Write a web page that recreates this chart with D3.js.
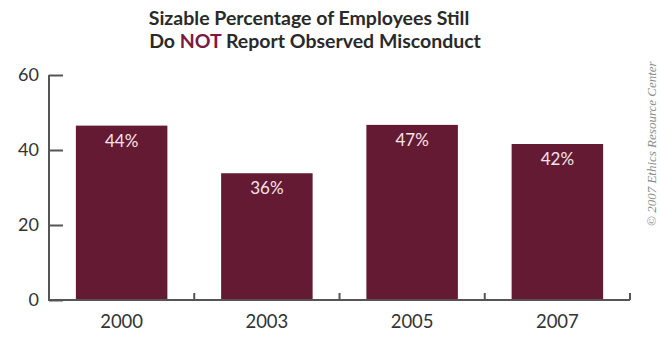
<!DOCTYPE html>
<meta charset="utf-8">
<head>
    <title>Employees who do not report misconduct</title>
</head>
<style>
  body {
    margin: 0;
    background: #fff;
    font-family: Lato, "Open Sans", sans-serif;
  }
  .axis path,
  .axis line {
    fill: none;
    stroke: #555;
    stroke-width: 2px;
  }
  .axis text {
    font: 18px Lato, sans-serif;
    fill: #333;
  }
  .bar {
    fill: #651a33;
  }
  .label {
    font: 17px Lato, sans-serif;
    fill: #f6e4ec;
  }
</style>
<body>
<script src="https://cdn.jsdelivr.net/npm/d3@7"></script>
<script>
// data
var years = ["2000", "2003", "2005", "2007"];
var barHeights = [46.5, 33.8, 46.7, 41.6];   // drawn heights
var barLabels = ["44%", "36%", "47%", "42%"]; // printed labels
var yTicks = [0, 20, 40, 60];

var margin = {top: 75, right: 30, bottom: 37, left: 49},
    width = 660 - margin.left - margin.right,
    height = 337 - margin.top - margin.bottom;

var svg = d3.select("body").append("svg")
    .attr("width", 660)
    .attr("height", 337);

var g = svg.append("g")
    .attr("transform", "translate(" + margin.left + "," + margin.top + ")");

var x = d3.scaleBand().domain(years).range([0, width]).paddingInner(0.37).paddingOuter(0.185);
var y = d3.scaleLinear().domain([0, 60]).range([height, 0]);

// title
var title = svg.append("text")
    .attr("text-anchor", "middle")
    .style("font", "bold 19.5px Lato, sans-serif")
    .style("fill", "#2a2a2a");
title.append("tspan").attr("x", 309).attr("y", 25).text("Sizable Percentage of Employees Still");
var l2 = title.append("tspan").attr("x", 315).attr("y", 48);
l2.append("tspan").text("Do ");
l2.append("tspan").style("fill", "#7a1a42").text("NOT");
l2.append("tspan").text(" Report Observed Misconduct");

// bars
g.selectAll(".bar")
    .data(years)
  .enter().append("rect")
    .attr("class", "bar")
    .attr("x", function(d) { return x(d); })
    .attr("width", x.bandwidth())
    .attr("y", function(d, i) { return y(barHeights[i]); })
    .attr("height", function(d, i) { return height - y(barHeights[i]); });

g.selectAll(".label")
    .data(years)
  .enter().append("text")
    .attr("class", "label")
    .attr("text-anchor", "middle")
    .attr("x", function(d) { return x(d) + x.bandwidth() / 2; })
    .attr("y", function(d, i) { return y(barHeights[i]) + 21; })
    .text(function(d, i) { return barLabels[i]; });

// y axis, ticks pointing inward
var yAxis = g.append("g")
    .attr("class", "axis")
    .call(d3.axisLeft(y).tickValues(yTicks).tickSizeInner(-14).tickSizeOuter(0).tickPadding(10));
yAxis.select(".domain").attr("d", "M0," + y(60) + "V" + (height + 1));

// x axis: line with small upward ticks between the bars
var xAxis = g.append("g")
    .attr("class", "axis")
    .attr("transform", "translate(0," + height + ")");
xAxis.append("line")
    .attr("x1", -1).attr("x2", width);
xAxis.selectAll(".sep")
    .data(years)
  .enter().append("line")
    .attr("x1", function(d, i) { return (i + 1) * width / years.length; })
    .attr("x2", function(d, i) { return (i + 1) * width / years.length; })
    .attr("y1", 0).attr("y2", -7);
xAxis.selectAll(".yr")
    .data(years)
  .enter().append("text")
    .attr("text-anchor", "middle")
    .attr("x", function(d) { return x(d) + x.bandwidth() / 2; })
    .attr("y", 28)
    .style("font-size", "18.5px")
    .text(function(d) { return d; });

// credit
svg.append("text")
    .attr("transform", "translate(656,226) rotate(-90)")
    .style("font", "italic 13px 'Liberation Serif', serif")
    .style("fill", "#8a8a8a")
    .text("\u00a9 2007 Ethics Resource Center");
</script>
</body>
